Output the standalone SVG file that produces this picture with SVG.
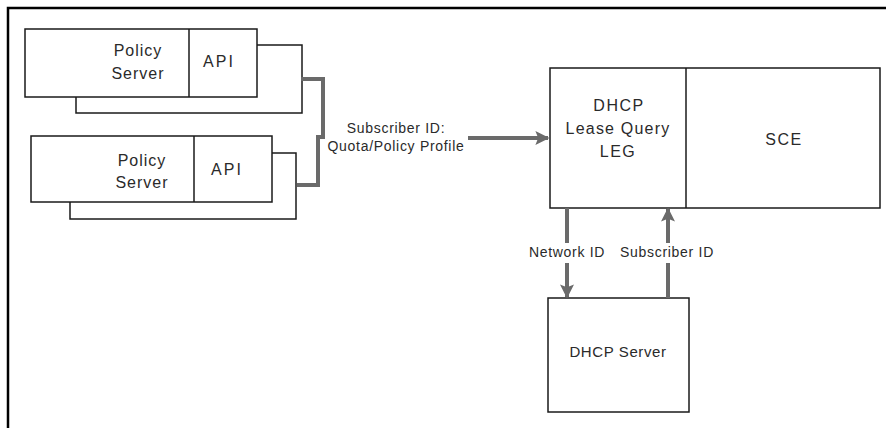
<svg xmlns="http://www.w3.org/2000/svg" width="886" height="428" viewBox="0 0 886 428">
  <defs>
    <marker id="head" viewBox="0 0 10 10" refX="9" refY="5" markerWidth="3.5" markerHeight="3.5" orient="auto" markerUnits="strokeWidth">
      <path d="M0,0 L10,5 L0,10 L2,5 z" fill="#6a6a6a"/>
    </marker>
    <style>
      .box { fill: #ffffff; stroke: #1a1a1a; stroke-width: 1.5; }
      .back { fill: none; stroke: #1a1a1a; stroke-width: 1.5; }
      .wire { fill: none; stroke: #6a6a6a; stroke-width: 4; }
      .t16 { font-family: "Liberation Sans", Arial, sans-serif; font-size: 16px; fill: #2a2a2a; text-anchor: middle; letter-spacing: 1px; }
      .t14 { font-family: "Liberation Sans", Arial, sans-serif; font-size: 14px; fill: #2a2a2a; text-anchor: middle; letter-spacing: 0.7px; }
      .t15 { font-family: "Liberation Sans", Arial, sans-serif; font-size: 15px; fill: #2a2a2a; text-anchor: middle; letter-spacing: 0.6px; }
    </style>
  </defs>

  <rect width="886" height="428" fill="#ffffff"/>

  <!-- frame -->
  <path d="M8,428 L8,8 L886,8" fill="none" stroke="#000" stroke-width="2.5"/>

  <!-- upper policy server -->
  <g id="policy-server-1">
    <rect class="back" x="76" y="45" width="226" height="68"/>
    <rect class="box" x="25" y="29" width="232" height="68"/>
    <line class="back" x1="189" y1="29" x2="189" y2="97"/>
    <text class="t16" x="138" y="56">Policy</text>
    <text class="t16" x="138" y="79">Server</text>
    <text class="t16" x="219" y="67" style="letter-spacing:2px">API</text>
  </g>

  <!-- lower policy server -->
  <g id="policy-server-2">
    <rect class="back" x="70" y="153" width="226" height="66"/>
    <rect class="box" x="31" y="136" width="241" height="66"/>
    <line class="back" x1="194" y1="136" x2="194" y2="202"/>
    <text class="t16" x="142" y="166">Policy</text>
    <text class="t16" x="142" y="188">Server</text>
    <text class="t16" x="227" y="175" style="letter-spacing:2px">API</text>
  </g>

  <!-- LEG + SCE -->
  <g id="leg-sce">
    <rect class="box" x="550" y="68" width="330" height="140"/>
    <line class="back" x1="686" y1="68" x2="686" y2="208"/>
    <text class="t16" x="619" y="111" style="letter-spacing:1.5px">DHCP</text>
    <text class="t16" x="618" y="134" style="letter-spacing:1.2px">Lease Query</text>
    <text class="t16" x="618" y="157" style="letter-spacing:1.5px">LEG</text>
    <text class="t16" x="784" y="145" style="letter-spacing:1.5px">SCE</text>
  </g>

  <!-- DHCP server -->
  <g id="dhcp-server">
    <rect class="box" x="548" y="298" width="141" height="114"/>
    <text class="t15" x="618" y="357">DHCP Server</text>
  </g>

  <!-- connectors -->
  <g id="connectors">
    <path class="wire" d="M301,79 L323,79 L323,137 L318,137 L318,185 L297,185"/>
    <line class="wire" x1="468" y1="138" x2="548" y2="138" marker-end="url(#head)"/>
    <line class="wire" x1="567" y1="208" x2="567" y2="243"/>
    <line class="wire" x1="567" y1="263" x2="567" y2="297" marker-end="url(#head)"/>
    <line class="wire" x1="668" y1="298" x2="668" y2="263"/>
    <line class="wire" x1="668" y1="243" x2="668" y2="209" marker-end="url(#head)"/>
  </g>

  <!-- connector labels -->
  <g id="labels">
    <text class="t14" x="396" y="133">Subscriber ID:</text>
    <text class="t14" x="396" y="151">Quota/Policy Profile</text>
    <text class="t14" x="567" y="257">Network ID</text>
    <text class="t14" x="667" y="257">Subscriber ID</text>
  </g>
</svg>
